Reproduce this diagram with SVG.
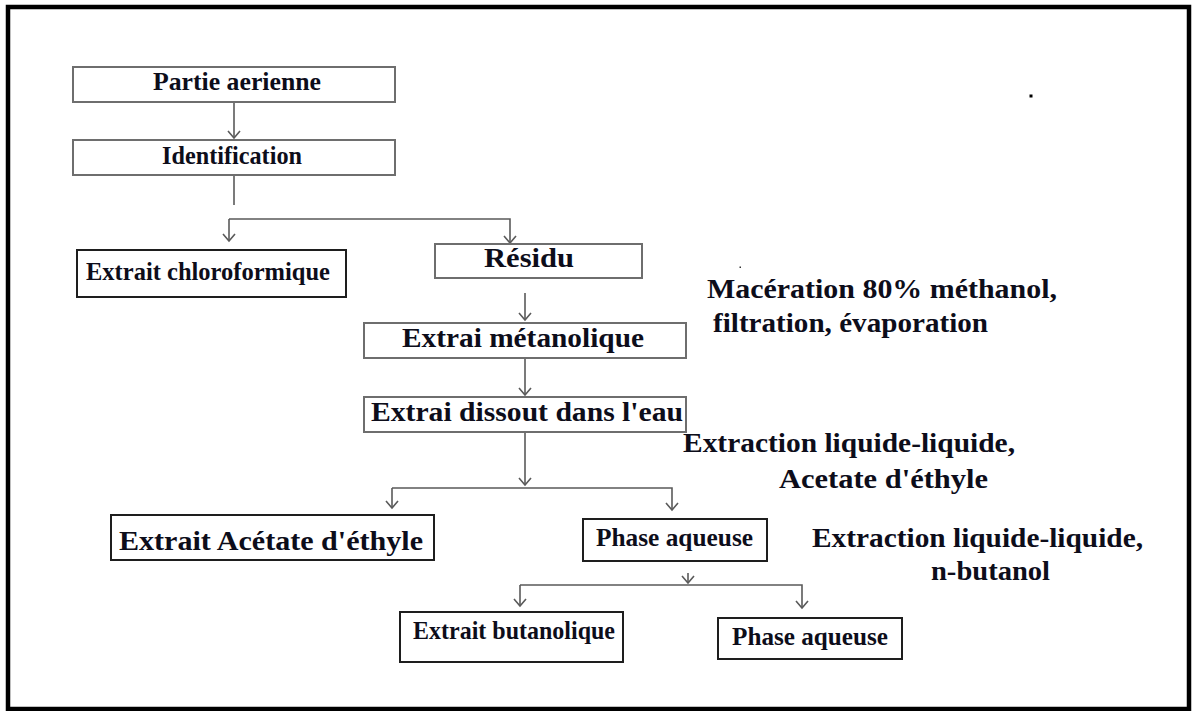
<svg xmlns="http://www.w3.org/2000/svg" width="1192" height="711" viewBox="0 0 1192 711">
<style>
text{font-family:"Liberation Serif","Times New Roman",serif;font-weight:bold;fill:#0d0d1a}
.c{font-size:25px}
.n{font-size:27px}
.bg{fill:#fff;stroke:#6e6e6e;stroke-width:2}
.bk{fill:#fff;stroke:#1e1e1e;stroke-width:2}
.ln{fill:none;stroke:#5a5a5a;stroke-width:1.6}
</style>
<defs>
<marker id="ah" markerWidth="12" markerHeight="14" viewBox="0 0 12 14" refX="10" refY="7" orient="auto" markerUnits="userSpaceOnUse">
<polyline points="3,1 10,7 3,13" fill="none" stroke="#5a5a5a" stroke-width="1.6"/>
</marker>
</defs>
<rect x="0" y="0" width="1192" height="711" fill="#fff"/>
<rect x="8" y="7" width="1181" height="702" fill="none" stroke="#000" stroke-width="4.5"/>
<g id="connectors">
<line class="ln" x1="234" y1="102" x2="234" y2="138" marker-end="url(#ah)"/>
<line class="ln" x1="234" y1="175" x2="234" y2="205"/>
<polyline class="ln" points="229,219 510,219 510,243" marker-end="url(#ah)"/>
<line class="ln" x1="229" y1="219" x2="229" y2="241" marker-end="url(#ah)"/>
<line class="ln" x1="525" y1="293" x2="525" y2="320" marker-end="url(#ah)"/>
<line class="ln" x1="525" y1="358" x2="525" y2="395" marker-end="url(#ah)"/>
<line class="ln" x1="525" y1="432" x2="525" y2="485" marker-end="url(#ah)"/>
<polyline class="ln" points="392,488 672,488 672,510" marker-end="url(#ah)"/>
<line class="ln" x1="392" y1="488" x2="392" y2="508" marker-end="url(#ah)"/>
<line class="ln" x1="688" y1="573" x2="688" y2="583" marker-end="url(#ah)"/>
<polyline class="ln" points="520,585 802,585 802,608" marker-end="url(#ah)"/>
<line class="ln" x1="520" y1="585" x2="520" y2="606" marker-end="url(#ah)"/>
</g>
<g id="partie"><rect class="bg" x="73" y="67" width="322" height="35"/><text class="c" x="153" y="90" textLength="168" lengthAdjust="spacingAndGlyphs">Partie aerienne</text></g>
<g id="identification"><rect class="bg" x="73" y="140" width="322" height="35"/><text class="c" x="162" y="164" textLength="140" lengthAdjust="spacingAndGlyphs">Identification</text></g>
<g id="chloroformique"><rect class="bk" x="77" y="250" width="269" height="47"/><text class="c" x="86" y="280" textLength="244" lengthAdjust="spacingAndGlyphs">Extrait chloroformique</text></g>
<g id="residu"><rect class="bg" x="435" y="244" width="207" height="34"/><text class="n" x="484" y="267" textLength="90" lengthAdjust="spacingAndGlyphs">Résidu</text></g>
<g id="metanolique"><rect class="bg" x="364" y="323" width="322" height="35"/><text class="n" x="402" y="347" textLength="242" lengthAdjust="spacingAndGlyphs">Extrai métanolique</text></g>
<g id="dissout"><rect class="bg" x="364" y="397" width="322" height="35"/><text class="n" x="371" y="421" textLength="312" lengthAdjust="spacingAndGlyphs">Extrai dissout dans l'eau</text></g>
<g id="acetate"><rect class="bk" x="111" y="515" width="323" height="45"/><text class="n" x="119" y="550" textLength="304" lengthAdjust="spacingAndGlyphs">Extrait Acétate d'éthyle</text></g>
<g id="phase1"><rect class="bk" x="583" y="519" width="184" height="42"/><text class="c" x="596" y="546" textLength="157" lengthAdjust="spacingAndGlyphs">Phase aqueuse</text></g>
<g id="butanolique"><rect class="bk" x="400" y="612" width="223" height="50"/><text class="c" x="413" y="639" textLength="202" lengthAdjust="spacingAndGlyphs">Extrait butanolique</text></g>
<g id="phase2"><rect class="bk" x="718" y="618" width="184" height="41"/><text class="c" x="732" y="645" textLength="156" lengthAdjust="spacingAndGlyphs">Phase aqueuse</text></g>
<g id="labels">
<text class="n" x="707" y="298" textLength="350" lengthAdjust="spacingAndGlyphs">Macération 80% méthanol,</text>
<text class="n" x="713" y="332" textLength="275" lengthAdjust="spacingAndGlyphs">filtration, évaporation</text>
<text class="n" x="683" y="452" textLength="332" lengthAdjust="spacingAndGlyphs">Extraction liquide-liquide,</text>
<text class="n" x="779" y="488" textLength="209" lengthAdjust="spacingAndGlyphs">Acetate d'éthyle</text>
<text class="n" x="812" y="547" textLength="331" lengthAdjust="spacingAndGlyphs">Extraction liquide-liquide,</text>
<text class="n" x="931" y="580" textLength="119" lengthAdjust="spacingAndGlyphs">n-butanol</text>
</g>
<rect x="1029.5" y="94.5" width="3" height="3" fill="#000"/>
<rect x="739.5" y="266.5" width="1.5" height="1.5" fill="#333"/>
</svg>
